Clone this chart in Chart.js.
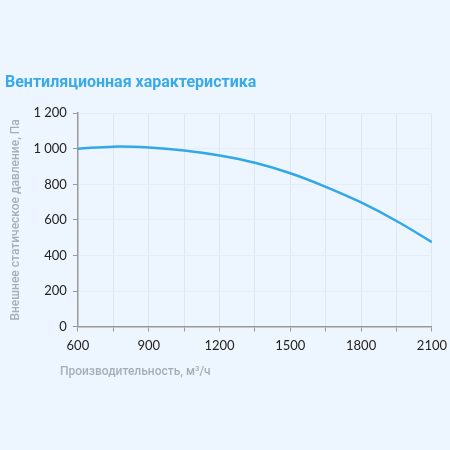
<!DOCTYPE html>
<html>
<head>
<meta charset="utf-8">
<script src="https://cdn.jsdelivr.net/npm/chart.js@4"></script>
<style>
  html, body { margin: 0; padding: 0; background: #edf6fe; }
  #wrap { width: 450px; height: 450px; }
</style>
</head>
<body>
<div id="wrap"><canvas id="myChart"></canvas></div>
<script>
const airflow = [600, 750, 900, 1050, 1200, 1350, 1500, 1650, 1800, 1950, 2100];
const pressure = [1000, 1012, 1007, 990, 962, 921, 862, 786, 698, 594, 475];
const xTicks = [600, 900, 1200, 1500, 1800, 2100];
const xTitle = "Производительность, м³/ч";

const ctx = document.getElementById("myChart").getContext("2d");

// x axis title sits a little left of the plot area in the original
const xTitlePlugin = {
  id: "xTitle",
  afterDraw(chart) {
    const c = chart.ctx;
    c.save();
    c.font = "500 12px Roboto";
    c.fillStyle = "#a6aeb7";
    c.textBaseline = "middle";
    c.fillText(xTitle, chart.chartArea.left - 18, chart.scales.x.bottom + 11);
    c.restore();
  },
};

const data = {
  datasets: [
    {
      data: airflow.map((x, i) => ({ x: x, y: pressure[i] })),
      borderColor: "#33a8e8",
      borderWidth: 2.5,
      pointRadius: 0,
      tension: 0.4,
      fill: false,
    },
  ],
};

new Chart(ctx, {
  type: "line",
  data,
  plugins: [xTitlePlugin],
  options: {
    responsive: true,
    maintainAspectRatio: false,
    animation: false,
    layout: { padding: { left: 5, right: 11, top: 0, bottom: 89 } },
    plugins: {
      legend: { display: false },
      tooltip: { enabled: false },
      title: {
        display: true,
        text: "Вентиляционная характеристика",
        align: "start",
        color: "#3aa9ea",
        font: { family: "Roboto", size: 16, weight: "bold" },
        padding: { top: 73, bottom: 21 },
      },
    },
    scales: {
      x: {
        type: "linear",
        min: 600,
        max: 2100,
        ticks: {
          stepSize: 150,
          autoSkip: false,
          maxRotation: 0,
          color: "#222",
          font: { family: "Lato", size: 13, lineHeight: 1.8 },
          padding: 3,
          callback: (v) => (xTicks.includes(v) ? String(v) : ""),
        },
        grid: { color: "#dde6f1", tickColor: "#9a9a9a", tickLength: 5 },
        border: { color: "#9a9a9a", width: 1.5 },
      },
      y: {
        min: 0,
        max: 1200,
        ticks: {
          stepSize: 200,
          color: "#222",
          font: { family: "Lato", size: 13 },
          padding: 6,
          callback: (v) => String(v).replace(/\B(?=(\d{3})+(?!\d))/g, " "),
        },
        grid: { color: "#e4ecf6", tickColor: "#9a9a9a", tickLength: 5 },
        border: { color: "#9a9a9a", width: 1.5 },
        title: {
          display: true,
          text: "Внешнее статическое давление, Па",
          color: "#a6aeb7",
          font: { family: "Roboto", size: 12, weight: "500" },
          padding: { bottom: 4 },
        },
      },
    },
  },
});
</script>
</body>
</html>
